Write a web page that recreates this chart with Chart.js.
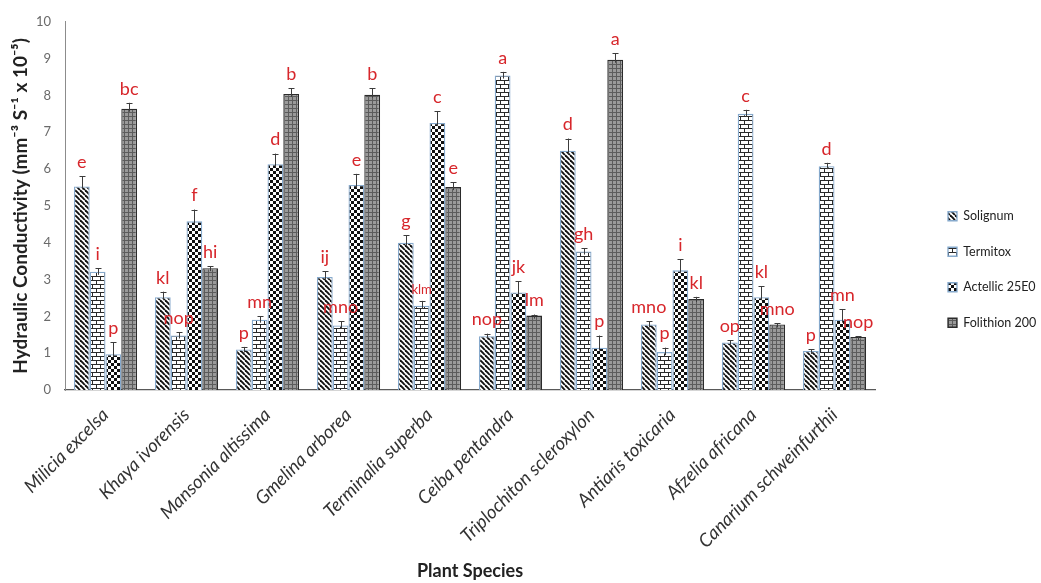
<!DOCTYPE html>
<html>
<head>
<meta charset="utf-8">
<script src="https://cdn.jsdelivr.net/npm/chart.js@4.4.1/dist/chart.umd.min.js"></script>
<style>
  html, body { margin: 0; padding: 0; background: #ffffff; }
  #wrap { width: 1041px; height: 583px; position: relative; }
</style>
</head>
<body>
<div id="wrap"><canvas id="chart" width="1041" height="583"></canvas></div>
<script>
// Plant species on the category axis
const species = [
  'Milicia excelsa', 'Khaya ivorensis', 'Mansonia altissima', 'Gmelina arborea',
  'Terminalia superba', 'Ceiba pentandra', 'Triplochiton scleroxylon',
  'Antiaris toxicaria', 'Afzelia africana', 'Canarium schweinfurthii'
];

// Treatments (legend order)
const treatments = ['Solignum', 'Termitox', 'Actellic 25E0', 'Folithion 200'];

// Mean hydraulic conductivity (mm-3 S-1 x 10-5)
const solignum  = [5.53, 2.52, 1.10, 3.07, 4.00, 1.46, 6.50, 1.78, 1.29, 1.06];
const termitox  = [3.21, 1.48, 1.91, 1.75, 2.29, 8.54, 3.76, 1.03, 7.50, 6.08];
const actellic  = [0.97, 4.58, 6.13, 5.57, 7.25, 2.65, 1.15, 3.25, 2.52, 1.91];
const folithion = [7.64, 3.31, 8.04, 8.02, 5.51, 2.02, 8.97, 2.47, 1.78, 1.44];

// Standard errors
const solignumErr  = [0.28, 0.15, 0.07, 0.15, 0.20, 0.07, 0.33, 0.09, 0.06, 0.05];
const termitoxErr  = [0.10, 0.09, 0.09, 0.12, 0.13, 0.10, 0.09, 0.12, 0.11, 0.09];
const actellicErr  = [0.33, 0.32, 0.29, 0.30, 0.32, 0.31, 0.33, 0.30, 0.30, 0.29];
const folithionErr = [0.16, 0.05, 0.15, 0.17, 0.13, 0.03, 0.18, 0.06, 0.03, 0.02];

// Mean separation letters
const solignumLetters  = ['e', 'kl', 'p', 'ij', 'g', 'nop', 'd', 'mno', 'op', 'p'];
const termitoxLetters  = ['i', 'nop', 'mn', 'mno', 'klm', 'a', 'gh', 'p', 'c', 'd'];
const actellicLetters  = ['p', 'f', 'd', 'e', 'c', 'jk', 'p', 'i', 'kl', 'mn'];
const folithionLetters = ['bc', 'hi', 'b', 'b', 'e', 'lm', 'a', 'kl', 'mno', 'nop'];

// Y axis ticks
const yTicks = [0, 1, 2, 3, 4, 5, 6, 7, 8, 9, 10];

// ---- fill patterns ----
function makePattern(w, h, paint) {
  const c = document.createElement('canvas');
  c.width = w; c.height = h;
  const g = c.getContext('2d');
  paint(g, w, h);
  return g.createPattern(c, 'repeat');
}

const stripePattern = makePattern(5, 5, (g, w, h) => {
  g.fillStyle = '#ffffff'; g.fillRect(0, 0, w, h);
  g.strokeStyle = '#111111'; g.lineWidth = 1.9;
  for (let k = -1; k <= 1; k++) {
    g.beginPath(); g.moveTo(k * w, 0); g.lineTo(k * w + w, h); g.stroke();
  }
});

const brickPattern = makePattern(8, 8, (g, w, h) => {
  g.fillStyle = '#ffffff'; g.fillRect(0, 0, w, h);
  g.fillStyle = '#2a2a2a';
  g.fillRect(0, 0, w, 1);
  g.fillRect(0, 4, w, 1);
  g.fillRect(0, 0, 1, 4);
  g.fillRect(4, 4, 1, 4);
});

const checkerPattern = makePattern(6, 6, (g, w, h) => {
  g.fillStyle = '#ffffff'; g.fillRect(0, 0, w, h);
  g.fillStyle = '#111111';
  g.fillRect(0, 0, 3, 3);
  g.fillRect(3, 3, 3, 3);
});

const gridPattern = makePattern(4, 4, (g, w, h) => {
  g.fillStyle = '#9a9a9a'; g.fillRect(0, 0, w, h);
  g.fillStyle = '#5c5c5c';
  g.fillRect(0, 0, w, 1);
  g.fillRect(0, 0, 1, h);
});

const fills = [stripePattern, brickPattern, checkerPattern, gridPattern];
const borders = ['#86a9cc', '#86a9cc', '#86a9cc', '#2b2b2b'];
const seriesValues = [solignum, termitox, actellic, folithion];
const seriesErrors = [solignumErr, termitoxErr, actellicErr, folithionErr];
const seriesLetters = [solignumLetters, termitoxLetters, actellicLetters, folithionLetters];

const datasets = treatments.map((name, i) => ({
  label: name,
  data: seriesValues[i],
  backgroundColor: fills[i],
  borderColor: borders[i],
  borderWidth: 1.3,
  errors: seriesErrors[i],
  letters: seriesLetters[i],
  barPercentage: 1.0,
  categoryPercentage: 0.78
}));

// Error bars (upper arm with cap) drawn through the value scale
const errorBars = {
  id: 'errorBars',
  afterDatasetsDraw(chart) {
    const ctx = chart.ctx;
    const y = chart.scales.y;
    ctx.save();
    ctx.strokeStyle = '#3c3c3c';
    ctx.lineWidth = 1;
    chart.data.datasets.forEach((ds, di) => {
      const meta = chart.getDatasetMeta(di);
      meta.data.forEach((bar, i) => {
        const v = ds.data[i], e = ds.errors[i];
        const top = y.getPixelForValue(v + e);
        const base = y.getPixelForValue(v);
        const x = Math.round(bar.x) + 0.5;
        ctx.beginPath();
        ctx.moveTo(x, base + 3);
        ctx.lineTo(x, top);
        ctx.moveTo(x - 3, Math.round(top) + 0.5);
        ctx.lineTo(x + 3, Math.round(top) + 0.5);
        ctx.stroke();
      });
    });
    ctx.restore();
  }
};

// Significance letters placed above each error bar
const letterLabels = {
  id: 'letterLabels',
  afterDatasetsDraw(chart) {
    const ctx = chart.ctx;
    const y = chart.scales.y;
    ctx.save();
    ctx.fillStyle = '#d7262b';
    ctx.textAlign = 'center';
    ctx.textBaseline = 'bottom';
    chart.data.datasets.forEach((ds, di) => {
      const meta = chart.getDatasetMeta(di);
      meta.data.forEach((bar, i) => {
        const txt = ds.letters[i];
        const top = y.getPixelForValue(ds.data[i] + ds.errors[i]);
        const small = di === 1 && i === 4;
        ctx.font = (small ? '13px' : '18px') + ' Lato, "Open Sans", sans-serif';
        ctx.fillText(txt, bar.x, top - 5);
      });
    });
    ctx.restore();
  }
};

// Place the legend column beside the plot
const legendPlacement = {
  id: 'legendPlacement',
  afterLayout(chart) {
    const lg = chart.legend;
    if (!lg) return;
    const pad = lg.options.labels.padding;
    const dx = 948 - (lg.left + pad);
    lg.left += dx; lg.right += dx;
    const dy = 187 - lg.top;
    lg.top += dy; lg.bottom += dy;
  }
};

new Chart(document.getElementById('chart'), {
  type: 'bar',
  data: { labels: species, datasets },
  plugins: [errorBars, letterLabels, legendPlacement],
  options: {
    responsive: false,
    animation: false,
    devicePixelRatio: 1,
    layout: { padding: { left: 0, top: 19, right: 46, bottom: 0 } },
    plugins: {
      tooltip: { enabled: false },
      legend: {
        position: 'right',
        align: 'start',
        maxWidth: 120,
        labels: {
          boxWidth: 9,
          boxHeight: 9,
          padding: 23,
          color: '#222222',
          font: { family: 'Lato, "Open Sans", sans-serif', size: 12.5 }
        }
      }
    },
    scales: {
      x: {
        offset: true,
        grid: { display: false, drawTicks: false },
        border: { display: true, color: '#595959', width: 1.2 },
        ticks: {
          minRotation: 45,
          maxRotation: 45,
          padding: 14,
          color: '#333333',
          font: { family: 'Lato, "Open Sans", sans-serif', size: 18.5, style: 'italic' }
        },
        title: {
          display: true,
          text: 'Plant Species',
          color: '#222222',
          font: { family: 'Lato, "Open Sans", sans-serif', size: 18, weight: 'bold' },
          padding: { top: 0, bottom: 1 }
        },
        afterFit(scale) { scale.height = 583 - 390; }
      },
      y: {
        min: 0,
        max: 10,
        afterBuildTicks(scale) { scale.ticks = yTicks.map(v => ({ value: v })); },
        grid: { display: false, drawTicks: false },
        border: { display: true, color: '#8c8c8c', width: 1 },
        ticks: {
          padding: 14,
          color: '#6a6a6a',
          font: { family: 'Lato, "Open Sans", sans-serif', size: 13 }
        },
        title: {
          display: true,
          text: 'Hydraulic Conductivity (mm⁻³ S⁻¹ x 10⁻⁵)',
          color: '#222222',
          font: { family: 'Lato, "Open Sans", sans-serif', size: 19, weight: 'bold' },
          padding: { top: 9, bottom: 0 }
        },
        afterFit(scale) { scale.width = 65; }
      }
    }
  }
});
</script>
</body>
</html>
